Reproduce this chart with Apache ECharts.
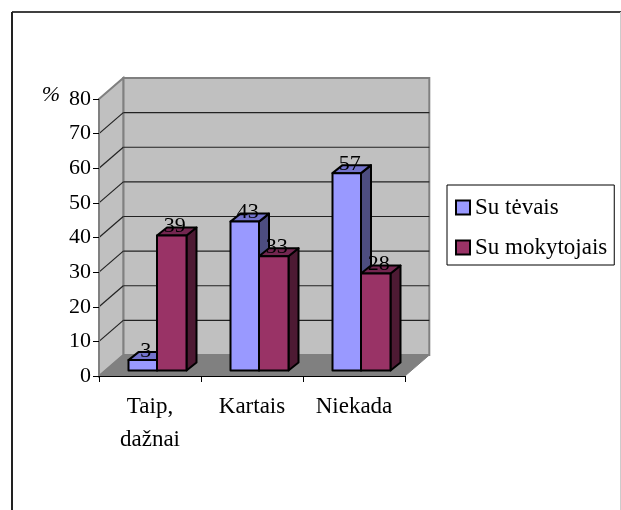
<!DOCTYPE html>
<html>
<head>
<meta charset="utf-8">
<style>html,body{margin:0;padding:0;background:#fff}#c{width:621px;height:510px}</style>
<script src="https://cdn.jsdelivr.net/npm/echarts@6/dist/echarts.min.js"></script>
</head>
<body>
<div id="c"></div>
<script>
const categories = ['Taip,\ndažnai', 'Kartais', 'Niekada'];
const suTevais = [3, 43, 57];
const suMokytojais = [39, 33, 28];
const yTicks = [10, 20, 30, 40, 50, 60, 70];
const FONT = '"Liberation Serif","Times New Roman",serif';

const DEPTH_X = 24.3, DEPTH_Y = 21;      // wall depth
const BAR_DX = 10, BAR_DY = 8;           // bar depth
const BASE_LIFT = 5.5;                   // bars stand inside the floor

function wallsItem(params, api) {
  const o = params.coordSys, l = o.x, r = o.x + o.width, t = o.y, b = o.y + o.height;
  const P = (pts, style) => ({ type: 'polygon', shape: { points: pts }, style });
  return { type: 'group', children: [
    P([[l + DEPTH_X, t - DEPTH_Y], [r + DEPTH_X, t - DEPTH_Y], [r + DEPTH_X, b - DEPTH_Y], [l + DEPTH_X, b - DEPTH_Y]], { fill: '#c0c0c0', stroke: '#808080', lineWidth: 2 }),
    P([[l, t], [l + DEPTH_X, t - DEPTH_Y], [l + DEPTH_X, b - DEPTH_Y], [l, b]], { fill: '#c0c0c0', stroke: '#808080', lineWidth: 2 }),
    P([[l, b], [l + DEPTH_X, b - DEPTH_Y], [r + DEPTH_X, b - DEPTH_Y], [r, b]], { fill: '#808080', stroke: '#808080', lineWidth: 1 })
  ]};
}

function gridItem(params, api) {
  const o = params.coordSys, l = o.x, r = o.x + o.width;
  const y = api.coord([0, api.value(1)])[1];
  const L = (x1, y1, x2, y2) => ({ type: 'line', shape: { x1, y1, x2, y2 }, style: { stroke: '#222', lineWidth: 1.2 } });
  return { type: 'group', children: [
    L(l, y, l + DEPTH_X, y - DEPTH_Y),
    L(l + DEPTH_X, y - DEPTH_Y, r + DEPTH_X, y - DEPTH_Y)
  ]};
}

function barRenderer(x0, x1, front, top, side) {
  return function (params, api) {
    const idx = api.value(0), val = api.value(1);
    const c = api.coord([idx, 0])[0];
    const yb = api.coord([idx, 0])[1] - BASE_LIFT, yt = api.coord([idx, val])[1] - BASE_LIFT;
    const a = c + x0, b = c + x1;
    const st = f => ({ fill: f, stroke: '#000', lineWidth: 2, lineJoin: 'round' });
    const P = (pts, f) => ({ type: 'polygon', shape: { points: pts }, style: st(f) });
    return { type: 'group', children: [
      P([[b, yt], [b + BAR_DX, yt - BAR_DY], [b + BAR_DX, yb - BAR_DY], [b, yb]], side),
      P([[a, yt], [a + BAR_DX, yt - BAR_DY], [b + BAR_DX, yt - BAR_DY], [b, yt]], top),
      P([[a, yt], [b, yt], [b, yb], [a, yb]], front),
      { type: 'text', style: { text: String(val), x: (a + b) / 2 + 3, y: yt - 9, align: 'center', verticalAlign: 'middle',
        font: '22px ' + FONT, fill: '#000' } }
    ]};
  };
}

const chart = echarts.init(document.getElementById('c'), null, { renderer: 'canvas' });
chart.setOption({
  animation: false,
  backgroundColor: '#fff',
  grid: { left: 99, top: 99, width: 306, height: 277 },
  xAxis: {
    type: 'category', data: categories, z: 10,
    axisLine: { lineStyle: { color: '#000', width: 1 } },
    axisTick: { show: true, length: 6, lineStyle: { color: '#000' } },
    axisLabel: { fontFamily: FONT, fontSize: 23, color: '#000', margin: 14, lineHeight: 33 }
  },
  yAxis: {
    type: 'value', min: 0, max: 80, interval: 10, z: 10,
    name: '%', nameLocation: 'end', nameGap: -7,
    nameTextStyle: { fontFamily: FONT, fontSize: 22, fontStyle: 'italic', color: '#000', align: 'right', padding: [0, 39, 0, 0] },
    axisLine: { show: true, lineStyle: { color: '#808080', width: 2 } },
    axisTick: { show: true, length: 6, lineStyle: { color: '#000' } },
    axisLabel: { fontFamily: FONT, fontSize: 22, color: '#000', margin: 8 },
    splitLine: { show: false }
  },
  legend: {
    data: ['Su tėvais', 'Su mokytojais'], orient: 'vertical', left: 447, top: 185,
    backgroundColor: '#fff', borderColor: '#000', borderWidth: 1,
    padding: [11, 7, 6, 8], itemGap: 17, itemWidth: 14, itemHeight: 14, icon: 'rect',
    selectedMode: false,
    textStyle: { fontFamily: FONT, fontSize: 23, color: '#000' }
  },
  graphic: [
    { type: 'line', shape: { x1: 12, y1: 12, x2: 621, y2: 12 }, style: { stroke: '#000', lineWidth: 1.5 } },
    { type: 'line', shape: { x1: 12, y1: 12, x2: 12, y2: 510 }, style: { stroke: '#222', lineWidth: 2 } },
    { type: 'line', shape: { x1: 620.5, y1: 12, x2: 620.5, y2: 510 }, style: { stroke: '#ccc', lineWidth: 1 } }
  ],
  series: [
    { type: 'custom', silent: true, renderItem: wallsItem, data: [[0, 0]], encode: { x: 0, y: 1 }, z: 1 },
    { type: 'custom', silent: true, renderItem: gridItem, data: yTicks.map(v => [0, v]), encode: { x: 0, y: 1 }, z: 2 },
    { type: 'custom', name: 'Su tėvais', renderItem: barRenderer(-21.5, 7, '#9999ff', '#7373cc', '#4d4d80'),
      data: suTevais.map((v, i) => [i, v]), encode: { x: 0, y: 1 }, z: 3,
      itemStyle: { color: '#9999ff', borderColor: '#000', borderWidth: 2 } },
    { type: 'custom', name: 'Su mokytojais', renderItem: barRenderer(7, 36.5, '#993366', '#732650', '#4d1a33'),
      data: suMokytojais.map((v, i) => [i, v]), encode: { x: 0, y: 1 }, z: 4,
      itemStyle: { color: '#993366', borderColor: '#000', borderWidth: 2 } }
  ]
});
</script>
</body>
</html>
